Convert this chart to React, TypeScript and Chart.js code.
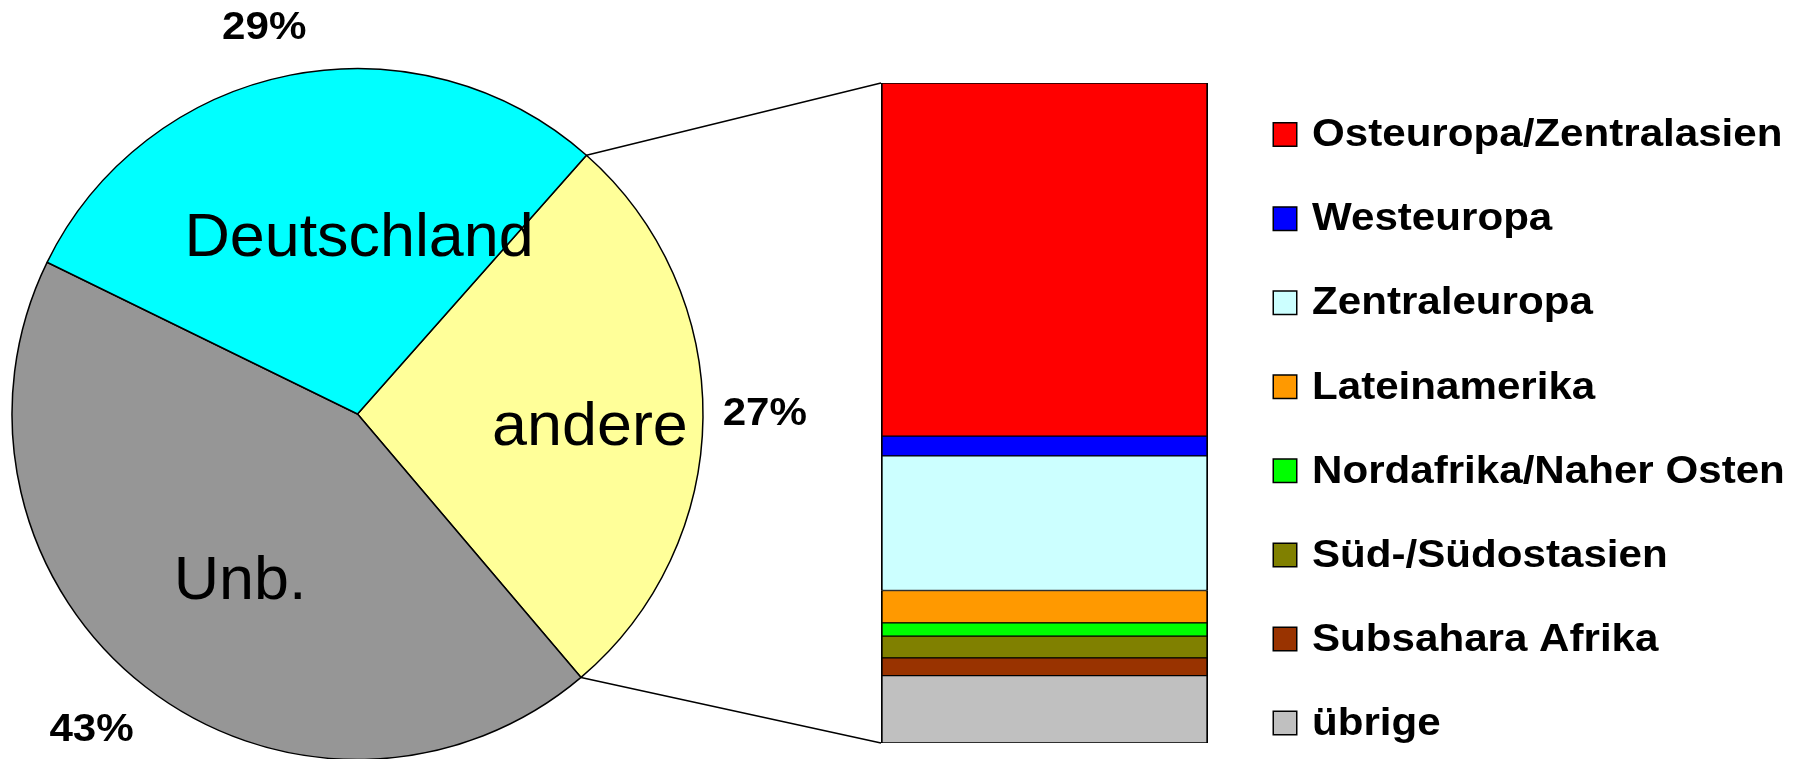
import React, { useEffect, useRef } from 'react';
import { Chart, registerables } from 'chart.js';

Chart.register(...registerables);

// ---------- data ----------
const pieLabels = ['andere', 'Unb.', 'Deutschland'];
const pieValues = [27, 43, 29];
const pieColors = ['#FFFF99', '#969696', '#00FFFF'];

const regionLabels = [
  'Osteuropa/Zentralasien',
  'Westeuropa',
  'Zentraleuropa',
  'Lateinamerika',
  'Nordafrika/Naher Osten',
  'Süd-/Südostasien',
  'Subsahara Afrika',
  'übrige',
];
const regionValues = [53.5, 3.0, 20.4, 4.9, 2.0, 3.3, 2.7, 10.2];
const regionColors = ['#FF0000', '#0000FF', '#CCFFFF', '#FF9900', '#00FF00', '#808000', '#993300', '#C0C0C0'];

// ---------- layout / style ----------
const W = 1799;
const H = 759;
const FONT = '"Liberation Sans", Arial, Helvetica, sans-serif';
const BOLD_SIZE = 39;
const BOLD_STRETCH = 1.08;
const NAME_SIZE = 61;
const NAME_STRETCH = 1.03;
// polar placement of slice names: [canvas angle in degrees, fraction of radius]
const namePlacement = [
  [3.5, 0.674],
  [125, 0.593],
  [-89.5, 0.507],
];
// polar placement of percentage labels: [canvas angle in degrees, fraction of radius]
const percentPlacement = [
  [0, 1.179],
  [130.1, 1.195],
  [-103.6, 1.148],
];

function stretchedText(ctx: CanvasRenderingContext2D, text: string, x: number, y: number, font: string, sx: number) {
  ctx.save();
  ctx.translate(x, y);
  ctx.scale(sx, 1);
  ctx.font = font;
  ctx.textAlign = 'left';
  ctx.textBaseline = 'middle';
  ctx.fillStyle = '#000';
  ctx.fillText(text, 0, 0);
  ctx.restore();
}

function centeredText(ctx: CanvasRenderingContext2D, text: string, cx: number, cy: number, font: string, sx: number) {
  ctx.save();
  ctx.font = font;
  const w = ctx.measureText(text).width * sx;
  ctx.restore();
  stretchedText(ctx, text, cx - w / 2, cy, font, sx);
}

export default function App() {
  const pieRef = useRef<HTMLCanvasElement | null>(null);
  const barRef = useRef<HTMLCanvasElement | null>(null);

  useEffect(() => {
    if (!pieRef.current || !barRef.current) return;

    const pieTextPlugin = {
      id: 'pieText',
      afterDatasetsDraw(chart: any) {
        const ctx: CanvasRenderingContext2D = chart.ctx;
        const meta = chart.getDatasetMeta(0);
        const values = chart.data.datasets[0].data as number[];
        const boldFont = `bold ${BOLD_SIZE}px ${FONT}`;
        const nameFont = `${NAME_SIZE}px ${FONT}`;
        meta.data.forEach((arc: any, i: number) => {
          const p = arc.getProps(['x', 'y', 'outerRadius'], true);
          // percentage label outside the slice
          const [pa, pf] = percentPlacement[i];
          const pr = (pa * Math.PI) / 180;
          centeredText(
            ctx,
            `${values[i]}%`,
            p.x + Math.cos(pr) * p.outerRadius * pf,
            p.y + Math.sin(pr) * p.outerRadius * pf,
            boldFont,
            BOLD_STRETCH
          );
          // slice name inside
          const [na, nf] = namePlacement[i];
          const nr = (na * Math.PI) / 180;
          centeredText(
            ctx,
            pieLabels[i],
            p.x + Math.cos(nr) * p.outerRadius * nf,
            p.y + Math.sin(nr) * p.outerRadius * nf,
            nameFont,
            NAME_STRETCH
          );
        });
      },
    };

    const pie = new Chart(pieRef.current, {
      type: 'pie',
      data: {
        labels: pieLabels,
        datasets: [
          {
            data: pieValues,
            backgroundColor: pieColors,
            borderColor: '#000000',
            borderWidth: 1.5,
          },
        ],
      },
      options: {
        responsive: false,
        animation: false,
        events: [],
        rotation: 41.5,
        radius: 345.5,
        layout: { padding: { left: 0, right: W - 715, top: 69, bottom: 0 } },
        plugins: { legend: { display: false }, tooltip: { enabled: false } },
      } as any,
      plugins: [pieTextPlugin],
    });

    const legendPlugin = {
      id: 'sideLegend',
      afterDraw(chart: any) {
        const ctx: CanvasRenderingContext2D = chart.ctx;
        const area = chart.chartArea;
        const boxX = area.right + 64.5;
        const y0 = area.top + 51.6;
        const step = 84.06;
        const box = 23.5;
        const textX = boxX + 39.5;
        const font = `bold ${BOLD_SIZE}px ${FONT}`;
        regionLabels.forEach((label, i) => {
          const cy = y0 + i * step;
          ctx.save();
          ctx.fillStyle = regionColors[i];
          ctx.strokeStyle = '#000';
          ctx.lineWidth = 1.5;
          ctx.beginPath();
          ctx.rect(boxX + 0.75, cy - box / 2, box, box);
          ctx.fill();
          ctx.stroke();
          ctx.restore();
          stretchedText(ctx, label, textX, cy + 1, font, BOLD_STRETCH);
        });
      },
    };

    const connectorPlugin = {
      id: 'connector',
      afterDatasetsDraw(chart: any) {
        const ctx: CanvasRenderingContext2D = chart.ctx;
        const arc: any = pie.getDatasetMeta(0).data[0];
        const p = arc.getProps(['x', 'y', 'startAngle', 'endAngle', 'outerRadius'], true);
        const n = chart.data.datasets.length;
        const topBar: any = chart.getDatasetMeta(n - 1).data[0];
        const botBar: any = chart.getDatasetMeta(0).data[0];
        const left = topBar.x - topBar.width / 2;
        ctx.save();
        ctx.strokeStyle = '#000';
        ctx.lineWidth = 1.5;
        ctx.beginPath();
        ctx.moveTo(p.x + Math.cos(p.startAngle) * p.outerRadius, p.y + Math.sin(p.startAngle) * p.outerRadius);
        ctx.lineTo(left, topBar.y);
        ctx.moveTo(p.x + Math.cos(p.endAngle) * p.outerRadius, p.y + Math.sin(p.endAngle) * p.outerRadius);
        ctx.lineTo(left, botBar.base);
        ctx.stroke();
        ctx.restore();
      },
    };

    // stacked from bottom (übrige) to top (Osteuropa/Zentralasien)
    const order = regionLabels.map((_, i) => i).reverse();
    const bar = new Chart(barRef.current, {
      type: 'bar',
      data: {
        labels: ['andere'],
        datasets: order.map((i) => ({
          label: regionLabels[i],
          data: [regionValues[i]],
          backgroundColor: regionColors[i],
          borderColor: '#000000',
          borderWidth: { top: 1, bottom: 1, left: 2, right: 2 },
          borderSkipped: false,
          barPercentage: 1,
          categoryPercentage: 1,
        })),
      },
      options: {
        responsive: false,
        animation: false,
        events: [],
        layout: { padding: { left: 881, right: W - 1208, top: 83, bottom: H - 743 } },
        scales: {
          x: { display: false, stacked: true },
          y: { display: false, stacked: true, min: 0, max: 100 },
        },
        plugins: { legend: { display: false }, tooltip: { enabled: false } },
      } as any,
      plugins: [legendPlugin, connectorPlugin],
    });

    return () => {
      bar.destroy();
      pie.destroy();
    };
  }, []);

  return (
    <div style={{ position: 'fixed', left: 0, top: 0, width: W, height: H, background: '#ffffff', overflow: 'hidden' }}>
      <canvas ref={pieRef} width={W} height={H} style={{ position: 'absolute', left: 0, top: 0 }} />
      <canvas ref={barRef} width={W} height={H} style={{ position: 'absolute', left: 0, top: 0 }} />
    </div>
  );
}
